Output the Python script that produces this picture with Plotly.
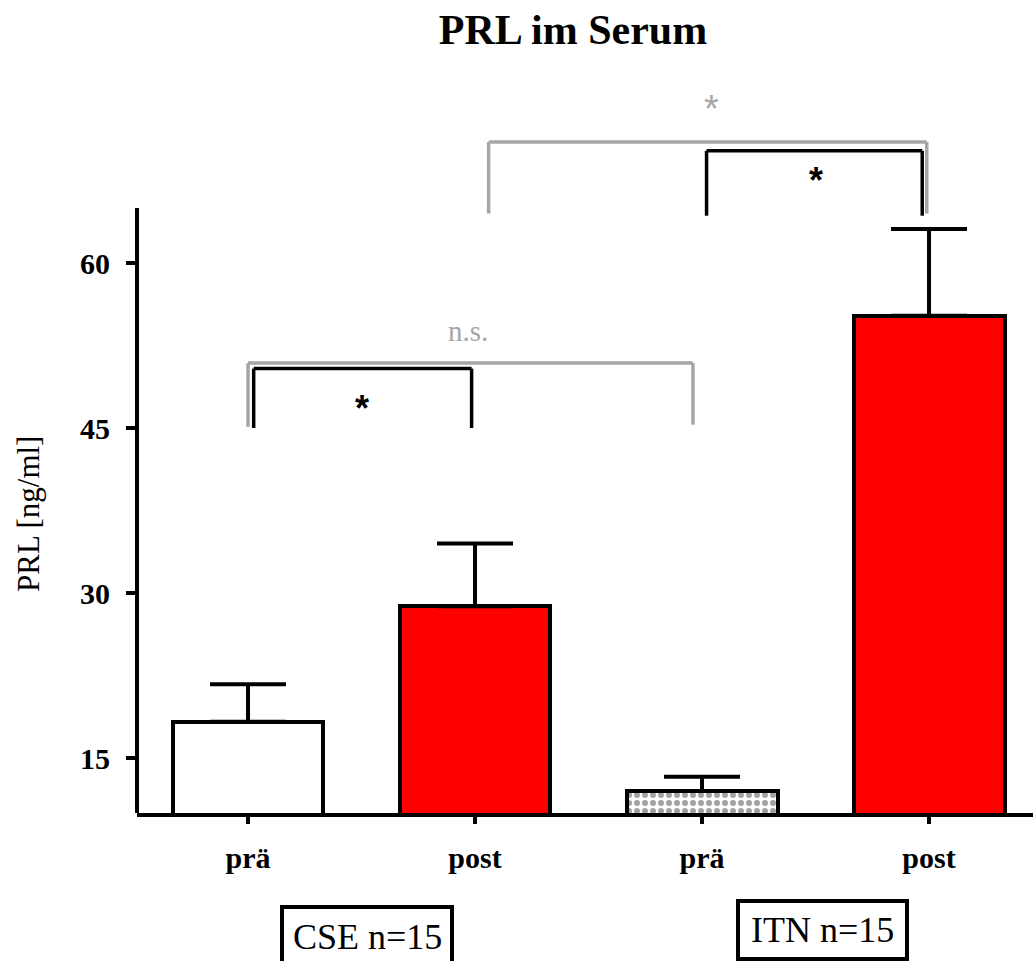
import plotly.graph_objects as go

# ---- data ----
positions = [0, 1, 2, 3]
tick_labels = ["prä", "post", "prä", "post"]
means = [18.3, 28.8, 12.0, 55.2]
sems = [3.4, 5.7, 1.3, 7.9]
bar_colors = ["#FFFFFF", "#FF0000", "#FFFFFF", "#FF0000"]
bar_patterns = ["", "", ".", ""]
y_ticks = [15, 30, 45, 60]
groups = ["CSE n=15", "ITN n=15"]

XR = [-0.489, 3.458]
YR = [10, 76]
Y_AXIS_TOP = 65

W, H = 1033, 961
ML, MR, MT, MB = 137, 0, 87, 148
PW, PH = W - ML - MR, H - MT - MB


def px_x(px):
    return (px - ML) / PW


def px_y(py):
    return (H - MB - py) / PH


def yd(v):
    return (v - YR[0]) / (YR[1] - YR[0])


LW = 4

fig = go.Figure()
fig.add_trace(go.Bar(
    x=positions, y=means, width=0.665,
    marker=dict(color=bar_colors, line=dict(color="black", width=LW),
                pattern=dict(shape=bar_patterns, fgcolor="black", bgcolor="white",
                             size=8, solidity=0.45)),
    error_y=dict(type="data", symmetric=False, array=sems, arrayminus=[0] * 4,
                 color="black", thickness=LW, width=38),
    showlegend=False, hoverinfo="skip",
))

shapes = []
# left axis line (only up to 65)
shapes.append(dict(type="line", xref="x domain", yref="y domain", x0=0, x1=0,
                   y0=0, y1=yd(Y_AXIS_TOP), line=dict(color="black", width=LW)))

GRAY = "#A6A6A6"
BW = 3.5


def bracket(xa, xb, ytop, ybot_a, ybot_b, color):
    return [
        dict(type="line", xref="x", yref="y", x0=xa, x1=xa, y0=ybot_a, y1=ytop, line=dict(color=color, width=BW)),
        dict(type="line", xref="x", yref="y", x0=xa, x1=xb, y0=ytop, y1=ytop, line=dict(color=color, width=BW)),
        dict(type="line", xref="x", yref="y", x0=xb, x1=xb, y0=ybot_b, y1=ytop, line=dict(color=color, width=BW)),
    ]


# comparisons (data coordinates)
shapes += bracket(0.0, 1.96, 50.9, 45.1, 45.3, GRAY)        # n.s.  CSE prä vs ITN prä
shapes += bracket(0.025, 0.985, 50.4, 45.0, 45.0, "black")  # *     CSE prä vs post
shapes += bracket(1.06, 2.99, 71.0, 64.5, 64.5, GRAY)       # *     CSE post vs ITN post
shapes += bracket(2.02, 2.97, 70.2, 64.3, 64.3, "black")    # *     ITN prä vs post

# group boxes
shapes.append(dict(type="rect", xref="paper", yref="paper", x0=px_x(282), x1=px_x(452),
                   y0=px_y(975), y1=px_y(907), line=dict(color="black", width=LW)))
shapes.append(dict(type="rect", xref="paper", yref="paper", x0=px_x(738), x1=px_x(907),
                   y0=px_y(959), y1=px_y(901), line=dict(color="black", width=LW)))

ann = []
ann.append(dict(x=0.97, y=53.8, xref="x", yref="y", text="n.s.", showarrow=False,
                xanchor="center", yanchor="middle",
                font=dict(family="Liberation Serif", size=29, color=GRAY)))
ann.append(dict(x=0.5, y=46.8, xref="x", yref="y", text="*", showarrow=False,
                xanchor="center", yanchor="middle",
                font=dict(family="Liberation Sans", size=36, color="black", weight="bold")))
ann.append(dict(x=2.04, y=74.0, xref="x", yref="y", text="*", showarrow=False,
                xanchor="center", yanchor="middle",
                font=dict(family="Liberation Sans", size=38, color=GRAY)))
ann.append(dict(x=2.5, y=67.5, xref="x", yref="y", text="*", showarrow=False,
                xanchor="center", yanchor="middle",
                font=dict(family="Liberation Sans", size=36, color="black", weight="bold")))
# group labels
ann.append(dict(x=px_x(367), y=px_y(937), xref="paper", yref="paper", text=groups[0], showarrow=False,
                xanchor="center", yanchor="middle",
                font=dict(family="Liberation Serif", size=36, color="black")))
ann.append(dict(x=px_x(822), y=px_y(930), xref="paper", yref="paper", text=groups[1], showarrow=False,
                xanchor="center", yanchor="middle",
                font=dict(family="Liberation Serif", size=36, color="black")))
# y axis title
ann.append(dict(x=px_x(28), y=px_y(514), xref="paper", yref="paper", text="PRL [ng/ml]", showarrow=False,
                xanchor="center", yanchor="middle",
                textangle=-90, font=dict(family="Liberation Serif", size=31, color="black")))

fig.update_layout(
    width=W, height=H,
    margin=dict(l=ML, r=MR, t=MT, b=MB, pad=0),
    paper_bgcolor="white", plot_bgcolor="white",
    title=dict(text="PRL im Serum", x=573 / W, xanchor="center", y=1 - 29 / H, yanchor="middle",
               xref="container", yref="container",
               font=dict(family="Liberation Serif", size=42, color="black", weight="bold")),
    shapes=shapes, annotations=ann,
    bargap=0,
)
fig.update_xaxes(range=XR, tickvals=positions, ticktext=tick_labels, showgrid=False, zeroline=False,
                 showline=True, linecolor="black", linewidth=LW, ticks="outside", ticklen=7,
                 tickwidth=LW, tickcolor="black", ticklabelstandoff=8,
                 tickfont=dict(family="Liberation Serif", size=30, color="black", weight="bold"))
fig.update_yaxes(range=YR, tickvals=y_ticks, showgrid=False, zeroline=False, showline=False,
                 ticks="outside", ticklen=10, tickwidth=LW, tickcolor="black", ticklabelstandoff=10,
                 tickfont=dict(family="Liberation Serif", size=30, color="black", weight="bold"))

fig.write_html("out.html")
